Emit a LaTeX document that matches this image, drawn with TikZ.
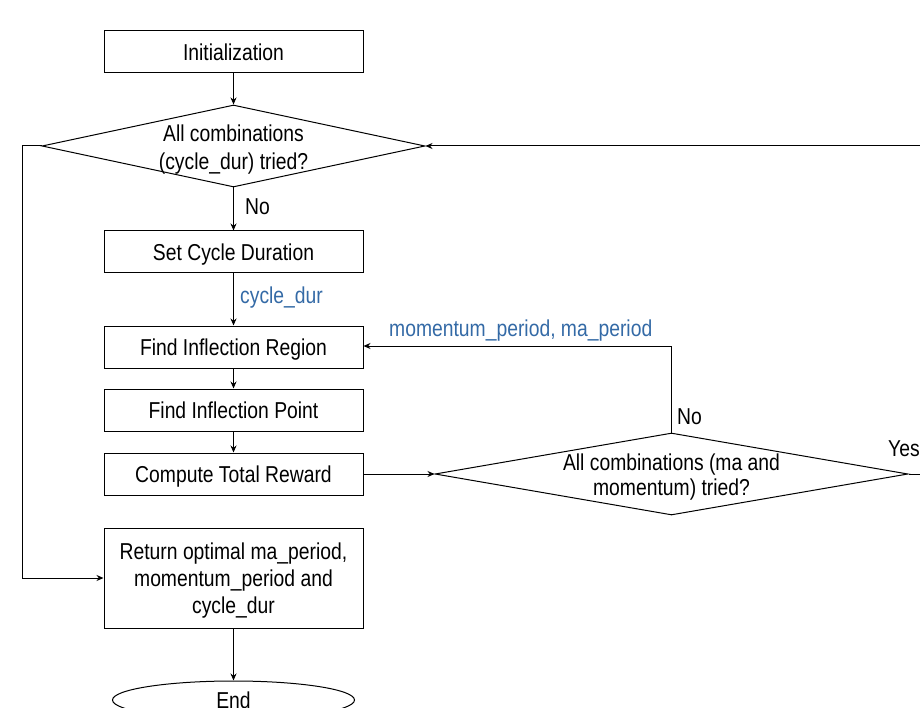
\documentclass[tikz,border=0pt]{standalone}
\usepackage{fontspec}
\setmainfont{Liberation Sans}[FakeStretch=0.84]
\usetikzlibrary{shapes.geometric,arrows.meta}
\definecolor{lblblue}{RGB}{52,106,166}
\tikzset{
  every node/.style={font=\fontsize{23}{27}\selectfont},
  procbox/.style={draw, line width=1pt, minimum width=259pt, minimum height=42pt, inner sep=0pt, align=center, text depth=0pt},
  decis/.style={draw, diamond, line width=1pt, inner sep=0pt},
  termin/.style={draw, ellipse, line width=1pt, minimum width=242pt, minimum height=38pt, inner sep=0pt},
  conn/.style={line width=1pt, -{Stealth[length=7pt,width=6pt]}},
  plainline/.style={line width=1pt},
  bluelbl/.style={text=lblblue, anchor=west, inner sep=0pt},
  blacklbl/.style={anchor=west, inner sep=0pt}
}
\begin{document}
\begin{tikzpicture}[x=1pt,y=-1pt]
\useasboundingbox (0,0) rectangle (920,708);
\node[procbox] (init) at (233.5,52) {Initialization};
\node[decis, minimum width=383pt, minimum height=82pt, label={[align=center, text depth=0pt, yshift=-1pt, font=\fontsize{23}{28}\selectfont]center:All combinations\\(cycle\_dur) tried?}] (d1) at (233.5,146) {};
\node[procbox] (setc) at (233.5,252) {Set Cycle Duration};
\node[procbox] (fir) at (233.5,347) {Find Inflection Region};
\node[procbox] (fip) at (233.5,410) {Find Inflection Point};
\node[procbox] (ctr) at (233.5,474) {Compute Total Reward};
\node[decis, minimum width=473pt, minimum height=82pt, label={[align=center, text depth=0pt, yshift=-1pt, font=\fontsize{23}{25}\selectfont]center:All combinations (ma and\\momentum) tried?}] (d2) at (671.5,474) {};
\node[procbox, minimum height=100pt] (ret) at (233.5,578) {Return optimal ma\_period,\\momentum\_period and\\cycle\_dur};
\node[termin] (endn) at (233.5,700) {End};
\coordinate (rin) at (920,146);
\coordinate (rout) at (920,474);
\coordinate (lft) at (22,146);
\coordinate (up) at (671.5,346);

\draw[conn] (init) -- (d1);
\draw[conn] (d1) -- (setc);
\draw[conn] (setc) -- (fir);
\draw[conn] (fir) -- (fip);
\draw[conn] (fip) -- (ctr);
\draw[conn] (ctr.east) -- (d2.west);
\draw[conn] (d2.north) -- (up) -- (fir.east |- up);
\draw[conn] (rin) -- (d1.east);
\draw[plainline] (d2.east) -- (rout);
\draw[conn] (d1.west) -- (lft) |- (ret.west);
\draw[conn] (ret) -- (endn);

\node[blacklbl] (no1) at (245,207) {No};
\node[bluelbl] (cd) at (240,298) {cycle\_dur};
\node[bluelbl] (mp) at (389,331) {momentum\_period, ma\_period};
\node[blacklbl] (no2) at (677,417) {No};
\node[blacklbl] (yes) at (888,449) {Yes};
\end{tikzpicture}
\end{document}
